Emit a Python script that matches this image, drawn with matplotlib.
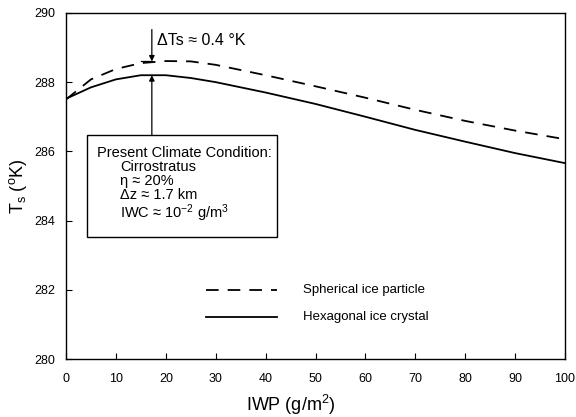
import matplotlib
matplotlib.use("Agg")
import matplotlib.pyplot as plt

plt.rcParams["font.family"] = ["Liberation Sans", "DejaVu Sans"]
plt.rcParams["mathtext.fontset"] = "custom"
plt.rcParams["mathtext.rm"] = "Liberation Sans"
plt.rcParams["mathtext.it"] = "Liberation Sans"

# IWP (g/m^2) and surface temperature (K)
iwp = [0, 5, 10, 15, 20, 25, 30, 40, 50, 60, 70, 80, 90, 100]
ts_spherical = [287.5, 288.08, 288.38, 288.55, 288.61, 288.6, 288.5,
                288.2, 287.88, 287.55, 287.2, 286.88, 286.6, 286.35]
ts_hexagonal = [287.52, 287.85, 288.08, 288.2, 288.2, 288.12, 288.0,
                287.7, 287.37, 287.0, 286.62, 286.28, 285.95, 285.66]

x_ticks = list(range(0, 101, 10))
y_ticks = list(range(280, 291, 2))

DASH = (0, (7, 5))

fig = plt.figure(figsize=(5.76, 4.17), dpi=100)
ax = fig.add_axes([0.1146, 0.139, 0.8664, 0.830])

ax.plot(iwp, ts_spherical, color="black", linestyle=DASH, linewidth=1.3)
ax.plot(iwp, ts_hexagonal, color="black", linestyle="-", linewidth=1.3)

ax.set_xlim(0, 100)
ax.set_ylim(280, 290)
ax.set_xticks(x_ticks)
ax.set_yticks(y_ticks)
ax.tick_params(direction="in", length=4, width=0.8, labelsize=9, top=False, right=False)
ax.tick_params(axis="x", pad=10)
ax.tick_params(axis="y", pad=8)
for s in ax.spines.values():
    s.set_linewidth(1.0)

ax.set_xlabel("IWP (g/m$^2$)", fontsize=13)
ax.xaxis.set_label_coords(0.45, -0.097)
ax.set_ylabel("T$_\\mathregular{s}$ ($^\\mathregular{o}$K)", fontsize=13)
ax.yaxis.set_label_coords(-0.074, 0.5)

# delta Ts annotation
ax.annotate("", xy=(17.2, 288.6), xytext=(17.2, 289.52),
            arrowprops=dict(arrowstyle="-|>", color="black", lw=0.9,
                            mutation_scale=8, shrinkA=0, shrinkB=0))
ax.plot([15.0, 17.2], [288.6, 288.6], color="black", linewidth=0.9)
ax.text(18.3, 289.2, "ΔTs ≈ 0.4 °K", fontsize=11.5, va="center", ha="left")

# arrow from box up to hexagonal curve
ax.annotate("", xy=(17.2, 288.2), xytext=(17.2, 286.47),
            arrowprops=dict(arrowstyle="-|>", color="black", lw=0.9,
                            mutation_scale=8, shrinkA=0, shrinkB=0))

box = plt.Rectangle((4.2, 283.52), 38.1, 2.95, fill=False, edgecolor="black",
                    linewidth=1.0)
ax.add_patch(box)
ax.text(6.2, 285.95, "Present Climate Condition:", fontsize=10.5, va="center")
ax.text(10.8, 285.55, "Cirrostratus", fontsize=10.5, va="center")
ax.text(10.8, 285.13, "η ≈ 20%", fontsize=10.5, va="center")
ax.text(10.8, 284.74, "Δz ≈ 1.7 km", fontsize=10.5, va="center")
ax.text(10.8, 284.2, "IWC ≈ 10$^{\\mathregular{-2}}$ g/m$^{\\mathregular{3}}$",
        fontsize=10.5, va="center")

# legend drawn by hand
ax.plot([28.1, 42.3], [282.0, 282.0], color="black", linestyle=DASH, linewidth=1.3)
ax.plot([28.1, 42.3], [281.22, 281.22], color="black", linestyle="-", linewidth=1.3)
ax.text(47.5, 282.0, "Spherical ice particle", fontsize=9.5, va="center")
ax.text(47.5, 281.22, "Hexagonal ice crystal", fontsize=9.5, va="center")

fig.savefig("out.png", dpi=100)
